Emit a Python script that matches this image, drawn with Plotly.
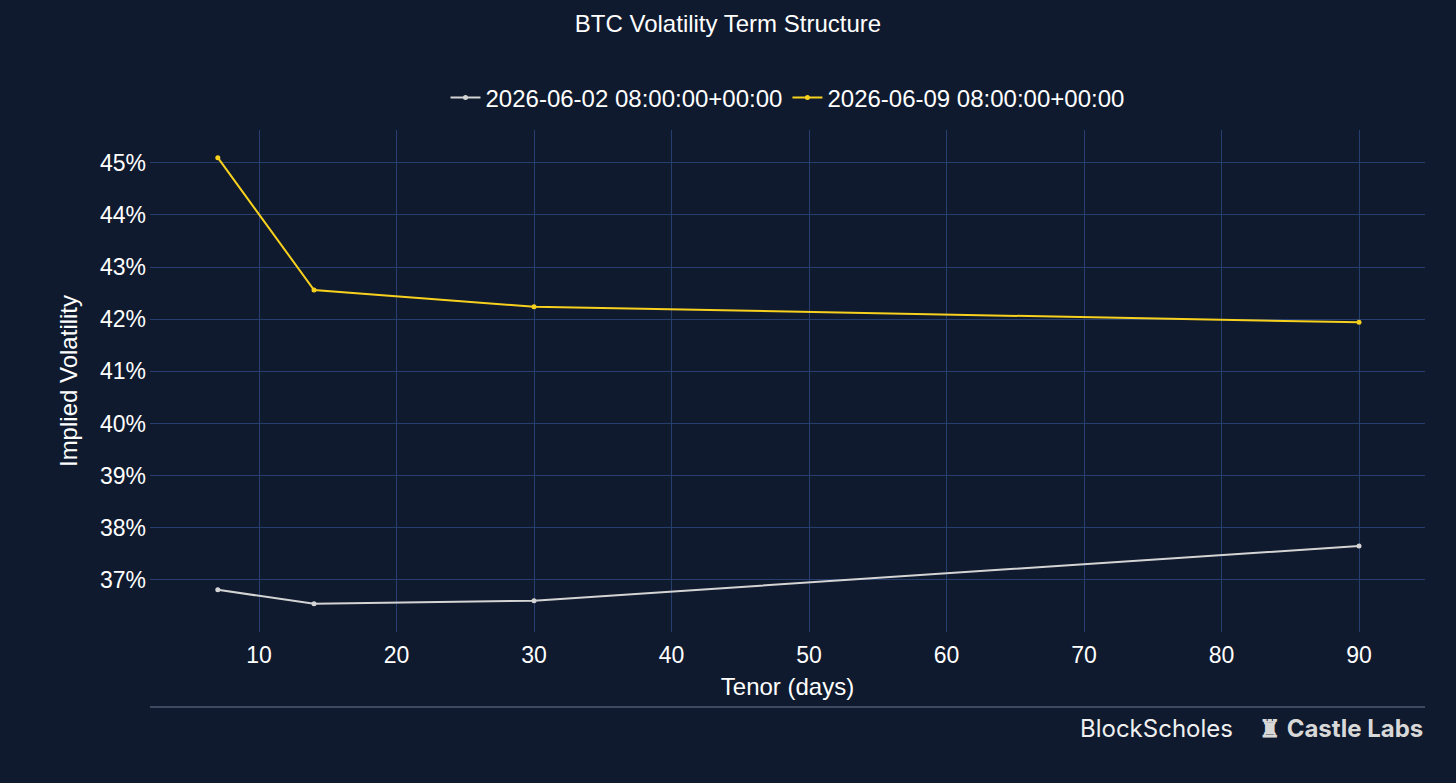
import plotly.graph_objects as go

tenors = [7, 14, 30, 90]
vol_0602 = [36.81, 36.54, 36.60, 37.65]
vol_0609 = [45.10, 42.56, 42.24, 41.94]
series_names = ["2026-06-02 08:00:00+00:00", "2026-06-09 08:00:00+00:00"]
y_ticks = [37, 38, 39, 40, 41, 42, 43, 44, 45]
y_tick_labels = [f"{v}%" for v in y_ticks]
x_ticks = [10, 20, 30, 40, 50, 60, 70, 80, 90]

BG = "#0f1a2e"
GRID = "#263f6e"
FONT = "Liberation Sans, Arial, sans-serif"

fig = go.Figure()
fig.add_trace(go.Scatter(x=tenors, y=vol_0602, name=series_names[0], mode="lines+markers",
                         line=dict(color="#d4d4d4", width=2), marker=dict(size=5, color="#d4d4d4")))
fig.add_trace(go.Scatter(x=tenors, y=vol_0609, name=series_names[1], mode="lines+markers",
                         line=dict(color="#f7d11e", width=2), marker=dict(size=5, color="#f7d11e")))

fig.update_layout(
    width=1456, height=783,
    paper_bgcolor=BG, plot_bgcolor=BG,
    margin=dict(l=150, r=31, t=130, b=151),
    font=dict(family=FONT, color="#ffffff", size=24),
    title=dict(text="BTC Volatility Term Structure", x=0.5, xanchor="center",
               y=1 - 24 / 783, yanchor="middle", yref="container",
               font=dict(size=24, color="#ffffff", family=FONT)),
    showlegend=True,
    legend=dict(orientation="h", x=0.5, xanchor="center", y=1.064, yanchor="middle",
                font=dict(size=24, color="#ffffff"), bgcolor="rgba(0,0,0,0)",
                itemwidth=30, tracegroupgap=0),
    xaxis=dict(title=dict(text="Tenor (days)", font=dict(size=24), standoff=11),
               range=[2.07, 94.8], tickvals=x_ticks, showgrid=True, gridcolor=GRID,
               gridwidth=1, zeroline=False, showline=False, ticks="",
               ticklabelstandoff=7, tickfont=dict(size=23)),
    yaxis=dict(title=dict(text="Implied Volatility", font=dict(size=24), standoff=15),
               range=[36.0, 45.63], tickvals=y_ticks, ticktext=y_tick_labels,
               showgrid=True, gridcolor=GRID, gridwidth=1, zeroline=False,
               showline=False, ticks="", ticklabelstandoff=3, tickfont=dict(size=23)),
)

fig.add_shape(type="line", xref="paper", yref="paper", x0=0, x1=1,
              y0=-(707 - 632) / 502, y1=-(707 - 632) / 502,
              line=dict(color="#6b7a90", width=1))

fig.add_annotation(xref="paper", yref="paper", x=(1235 - 150) / 1275, xanchor="right",
                   y=-(728 - 632) / 502, yanchor="middle", showarrow=False,
                   text="BlockScholes", font=dict(size=24, color="#f0f0f0", family="Inter, Lato, sans-serif"))
fig.add_annotation(xref="paper", yref="paper", x=1, xanchor="right",
                   y=-(728 - 632) / 502, yanchor="middle", showarrow=False,
                   text="<b>♜ Castle Labs</b>", font=dict(size=24, color="#d8d8d8", family="Inter, Lato, sans-serif"))

fig.write_html("out.html", config={"displayModeBar": False},
               post_script="document.body.style.margin='0';document.body.style.background='#0f1a2e';")
